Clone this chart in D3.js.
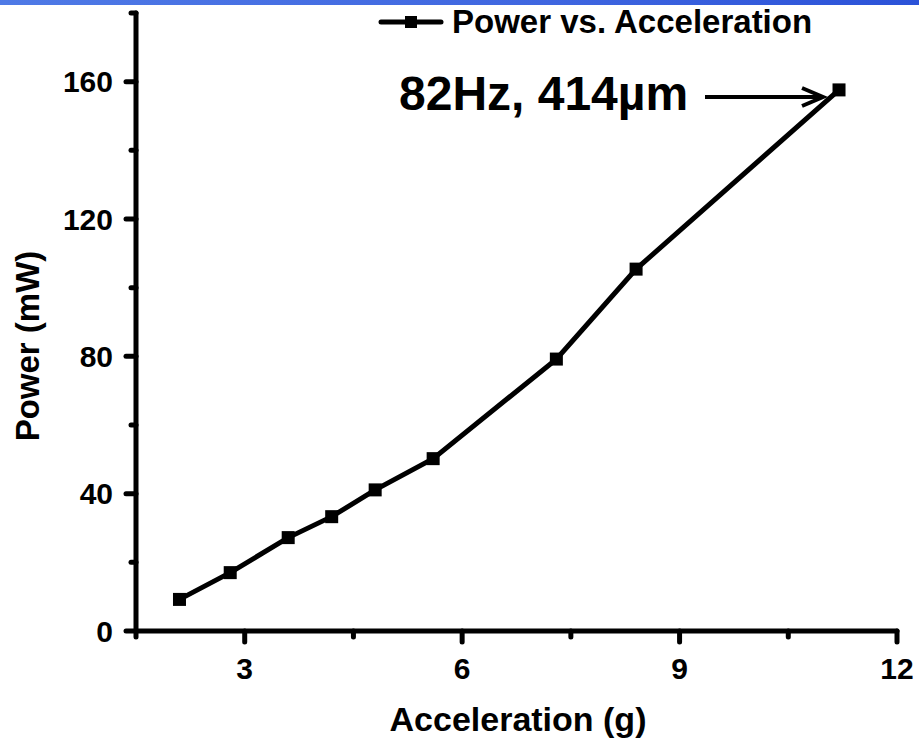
<!DOCTYPE html>
<html>
<head>
<meta charset="utf-8">
<script src="https://cdn.jsdelivr.net/npm/d3@7"></script>
<style>
  html, body { margin: 0; padding: 0; background: #fff; }
  svg { display: block; }
  text { font-family: "Liberation Sans", Arial, sans-serif; font-weight: bold; fill: #000; }
</style>
</head>
<body>
<svg id="chart" width="919" height="744"></svg>
<script>
// Measured harvester output power against base acceleration
const acceleration = [2.1, 2.8, 3.6, 4.2, 4.8, 5.6, 7.3, 8.4, 11.2];
const power = [9.2, 17.0, 27.2, 33.3, 41.1, 50.2, 79.2, 105.4, 157.6];
const xMajorTicks = [3, 6, 9, 12];
const xMinorTicks = [1.5, 4.5, 7.5, 10.5];
const yMajorTicks = [0, 40, 80, 120, 160];
const yMinorTicks = [20, 60, 100, 140, 180];
const seriesName = "Power vs. Acceleration";
const annotation = "82Hz, 414\u00b5m";

const svg = d3.select("#chart");

// header band
const defs = svg.append("defs");
const grad = defs.append("linearGradient").attr("id", "band").attr("x1", "0").attr("x2", "1");
grad.append("stop").attr("offset", "0").attr("stop-color", "#4f7ae6");
grad.append("stop").attr("offset", "0.6").attr("stop-color", "#3f66e0");
grad.append("stop").attr("offset", "1").attr("stop-color", "#2b52d8");
svg.append("rect").attr("x", 0).attr("y", 0).attr("width", 919).attr("height", 5).attr("fill", "url(#band)");

const plotLeft = 136, plotRight = 897, plotTop = 13, plotBottom = 631;
const x = d3.scaleLinear().domain([1.5, 12]).range([plotLeft, plotRight]);
const y = d3.scaleLinear().domain([0, 180]).range([plotBottom, plotTop]);

const axisW = 5;

// y axis
const gy = svg.append("g");
gy.append("line").attr("x1", plotLeft).attr("x2", plotLeft).attr("y1", y(180)).attr("y2", y(0))
  .attr("stroke", "#000").attr("stroke-width", axisW).attr("stroke-linecap", "round");
gy.selectAll("line.major").data(yMajorTicks).join("line").attr("class", "major")
  .attr("x1", plotLeft).attr("x2", plotLeft - 10).attr("y1", d => y(d)).attr("y2", d => y(d))
  .attr("stroke", "#000").attr("stroke-width", axisW).attr("stroke-linecap", "round");
gy.selectAll("line.minor").data(yMinorTicks).join("line").attr("class", "minor")
  .attr("x1", plotLeft).attr("x2", plotLeft - 5).attr("y1", d => y(d)).attr("y2", d => y(d))
  .attr("stroke", "#000").attr("stroke-width", axisW).attr("stroke-linecap", "round");
gy.selectAll("text").data(yMajorTicks).join("text")
  .attr("x", plotLeft - 23).attr("y", d => y(d)).attr("dy", "0.36em")
  .attr("text-anchor", "end").attr("font-size", 30).text(d => d);

// x axis
const gx = svg.append("g");
gx.append("line").attr("x1", x(1.5)).attr("x2", x(12)).attr("y1", plotBottom).attr("y2", plotBottom)
  .attr("stroke", "#000").attr("stroke-width", axisW).attr("stroke-linecap", "round");
gx.selectAll("line.major").data(xMajorTicks).join("line").attr("class", "major")
  .attr("x1", d => x(d)).attr("x2", d => x(d)).attr("y1", plotBottom).attr("y2", plotBottom + 11)
  .attr("stroke", "#000").attr("stroke-width", axisW).attr("stroke-linecap", "round");
gx.selectAll("line.minor").data(xMinorTicks).join("line").attr("class", "minor")
  .attr("x1", d => x(d)).attr("x2", d => x(d)).attr("y1", plotBottom).attr("y2", plotBottom + 6)
  .attr("stroke", "#000").attr("stroke-width", axisW).attr("stroke-linecap", "round");
gx.selectAll("text").data(xMajorTicks).join("text")
  .attr("x", d => x(d)).attr("y", plotBottom + 48)
  .attr("text-anchor", "middle").attr("font-size", 30).text(d => d);

// axis titles
svg.append("text").attr("x", 518).attr("y", 731)
  .attr("text-anchor", "middle").attr("font-size", 34).text("Acceleration (g)");
svg.append("text").attr("transform", "translate(39,346) rotate(-90)")
  .attr("text-anchor", "middle").attr("font-size", 33).text("Power (mW)");

// series
const pts = acceleration.map((a, i) => [a, power[i]]);
svg.append("path").datum(pts)
  .attr("d", d3.line().x(d => x(d[0])).y(d => y(d[1])))
  .attr("fill", "none").attr("stroke", "#000").attr("stroke-width", 5);
const ms = 13;
svg.selectAll("rect.pt").data(pts).join("rect").attr("class", "pt")
  .attr("x", d => x(d[0]) - ms / 2).attr("y", d => y(d[1]) - ms / 2)
  .attr("width", ms).attr("height", ms).attr("fill", "#000");

// legend
const lg = svg.append("g");
lg.append("line").attr("x1", 381).attr("x2", 441).attr("y1", 22).attr("y2", 22)
  .attr("stroke", "#000").attr("stroke-width", 5).attr("stroke-linecap", "round");
lg.append("rect").attr("x", 405).attr("y", 16).attr("width", 12).attr("height", 12).attr("fill", "#000");
lg.append("text").attr("x", 452).attr("y", 33).attr("font-size", 33).text(seriesName);

// annotation with arrow pointing at the last point
const last = pts[pts.length - 1];
svg.append("text").attr("x", 399).attr("y", 110).attr("font-size", 48).text(annotation);
const ay = 97, ax1 = 705, ax2 = x(last[0]) - 16;
svg.append("line").attr("x1", ax1).attr("x2", ax2).attr("y1", ay).attr("y2", ay)
  .attr("stroke", "#000").attr("stroke-width", 4);
svg.append("path")
  .attr("d", `M${ax2 - 21},${ay - 9} L${ax2},${ay} L${ax2 - 21},${ay + 9}`)
  .attr("fill", "none").attr("stroke", "#000").attr("stroke-width", 4);
</script>
</body>
</html>
